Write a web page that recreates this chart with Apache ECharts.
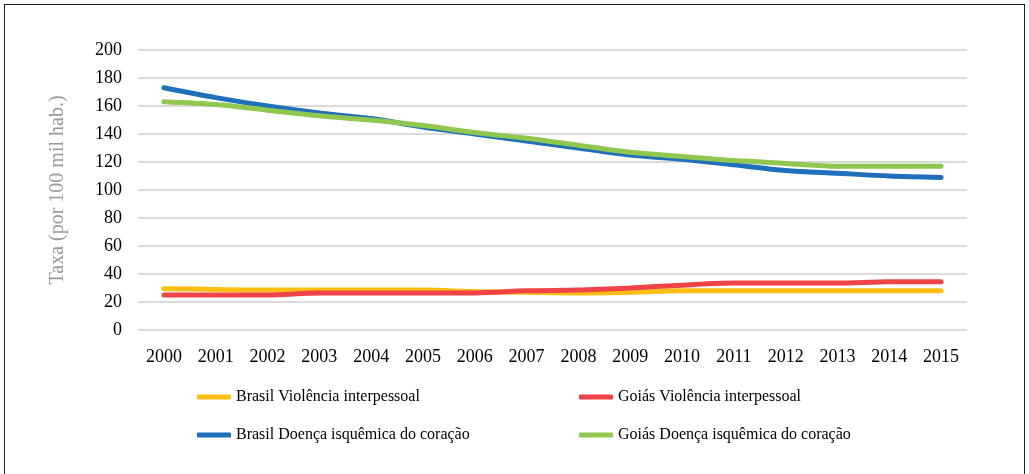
<!DOCTYPE html>
<html>
<head>
<meta charset="utf-8">
<script src="https://cdn.jsdelivr.net/npm/echarts@6/dist/echarts.min.js"></script>
<style>
  html, body { margin: 0; padding: 0; background: #fff; }
  #frame { position: absolute; left: 4px; top: 4px; width: 1021px; height: 474px; border-left: 1px solid #222; border-top: 1px solid #222; border-right: 1px solid #222; box-sizing: border-box; }
  #chart { position: absolute; left: 0; top: 0; width: 1029px; height: 474px; }
</style>
</head>
<body>
<div id="frame"></div>
<div id="chart"></div>
<script>
var years = ["2000","2001","2002","2003","2004","2005","2006","2007","2008","2009","2010","2011","2012","2013","2014","2015"];
var brasilViolencia = [29.5, 29, 28.5, 28.5, 28.5, 28.5, 27.5, 27, 26.5, 27, 28, 28, 28, 28, 28, 28];
var goiasViolencia = [25, 25, 25, 26.5, 26.5, 26.5, 26.5, 28, 28.5, 30, 32, 33.5, 33.5, 33.5, 34.5, 34.5];
var brasilCoracao = [173, 166, 160, 155, 151, 145, 140, 135, 130, 125, 122, 118, 114, 112, 110, 109];
var goiasCoracao = [163, 161, 157, 153, 150, 146, 141, 137, 132, 127, 124, 121, 119, 117, 117, 117];

var names = ["Brasil Violência interpessoal", "Goiás Violência interpessoal",
             "Brasil Doença isquêmica do coração", "Goiás Doença isquêmica do coração"];
var colors = ["#fdbd12", "#ef4348", "#1f6fba", "#8fc74f"];
var seriesData = [brasilViolencia, goiasViolencia, brasilCoracao, goiasCoracao];

var serif = '"Liberation Serif", "DejaVu Serif", serif';

var legendPos = [[192, 384], [574, 384], [192, 422], [574, 422]];

var chart = echarts.init(document.getElementById("chart"));
chart.setOption({
  animation: false,
  color: colors,
  grid: { left: 138, right: 62, top: 50, bottom: 144 },
  legend: names.map(function (n, i) {
    return {
      data: [n],
      left: legendPos[i][0],
      top: legendPos[i][1],
      itemWidth: 34,
      itemHeight: 5,
      itemGap: 6,
      icon: "roundRect",
      textStyle: { fontFamily: serif, fontSize: 16, color: "#000" }
    };
  }),
  xAxis: {
    type: "category",
    data: years,
    boundaryGap: true,
    axisLine: { show: false },
    axisTick: { show: false },
    axisLabel: { fontFamily: serif, fontSize: 18, color: "#000", margin: 18 }
  },
  yAxis: {
    type: "value",
    min: 0,
    max: 200,
    interval: 20,
    name: "Taxa (por 100 mil hab.)",
    nameLocation: "middle",
    nameGap: 70,
    nameTextStyle: { fontFamily: serif, fontSize: 20, color: "#999" },
    axisLine: { show: false },
    axisTick: { show: false },
    axisLabel: { fontFamily: serif, fontSize: 18, color: "#000", margin: 16 },
    splitLine: { lineStyle: { color: "#cfcfcf", width: 1.5 } }
  },
  series: names.map(function (n, i) {
    return {
      name: n,
      type: "line",
      data: seriesData[i],
      smooth: 0.3,
      showSymbol: false,
      lineStyle: { width: 5, color: colors[i], cap: "round" },
      itemStyle: { color: colors[i] }
    };
  })
});
</script>
</body>
</html>
